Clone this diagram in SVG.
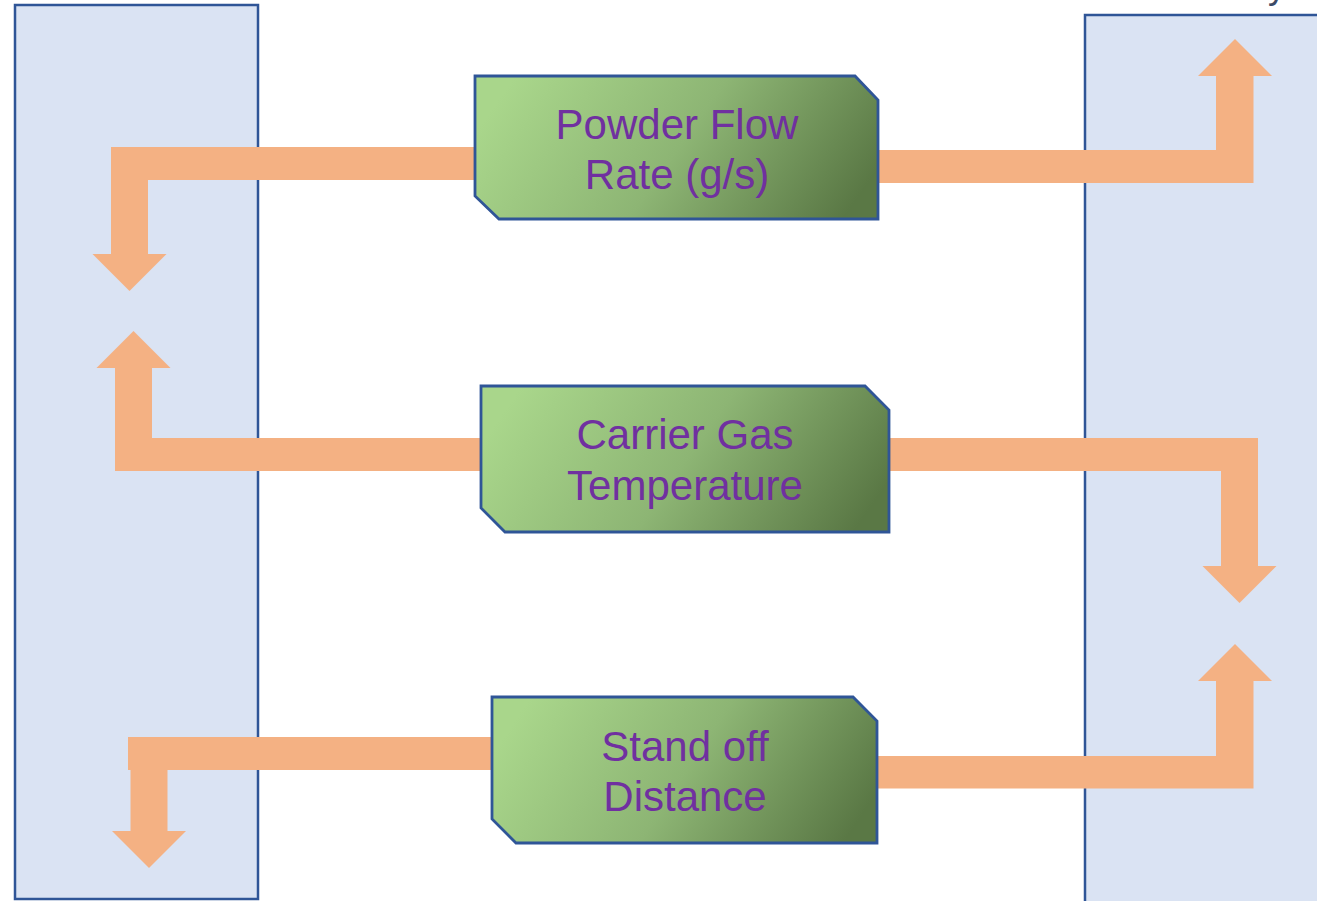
<svg xmlns="http://www.w3.org/2000/svg" width="1317" height="901" viewBox="0 0 1317 901">
<style>
.panel{fill:#dae3f3;stroke:#2f5597;stroke-width:2.5}
.box{fill:url(#g);stroke:#2f5597;stroke-width:2.8}
.arr{fill:#f4b183;stroke:none}
.lbl{font-family:"Liberation Sans",Arial,sans-serif;font-size:42px;fill:#7030a0;text-anchor:middle}
</style>
<defs>
<linearGradient id="g" x1="0" y1="0.4" x2="1" y2="0.65">
<stop offset="0" stop-color="#a9d68b"/>
<stop offset="0.5" stop-color="#8db574"/>
<stop offset="1" stop-color="#5a7845"/>
</linearGradient>
</defs>
<g id="left-panel"><rect class="panel" x="15" y="5" width="243" height="894"/></g>
<g id="right-panel"><rect class="panel" x="1085" y="15" width="260" height="900"/></g>
<text x="1268" y="-2" font-family="Liberation Sans, Arial, sans-serif" font-size="36" fill="#3b4a66">y</text>
<g id="connectors">
<polygon class="arr" points="475,147 111,147 111,254 92.5,254 129.5,291 166.5,254 148,254 148,180 475,180"/>
<polygon class="arr" points="481,438 152,438 152,368 170.5,368 133.5,331 96.5,368 115,368 115,471 481,471"/>
<polygon class="arr" points="492,737 128,737 128,770 130.5,770 130.5,831 112,831 149,868 186,831 167.5,831 167.5,770 492,770"/>
<polygon class="arr" points="878,150 1216,150 1216,76 1198,76 1235,39 1272,76 1253.5,76 1253.5,183 878,183"/>
<polygon class="arr" points="889,438 1258,438 1258,566 1276.5,566 1239.5,603 1202.5,566 1221,566 1221,471 889,471"/>
<polygon class="arr" points="877,756 1216,756 1216,681 1198,681 1235,644 1272,681 1253.5,681 1253.5,788.5 877,788.5"/>
</g>
<g id="powder-flow">
<path class="box" d="M475,76 H855 L878,100 V219 H499 L475,196 Z"/>
<text class="lbl" x="677" y="139">Powder Flow</text>
<text class="lbl" x="677" y="189">Rate (g/s)</text>
</g>
<g id="carrier-gas">
<path class="box" d="M481,386 H865 L889,410 V532 H505 L481,508 Z"/>
<text class="lbl" x="685" y="449">Carrier Gas</text>
<text class="lbl" x="685" y="500">Temperature</text>
</g>
<g id="stand-off">
<path class="box" d="M492,697 H853 L877,721 V843 H516 L492,819 Z"/>
<text class="lbl" x="685" y="761">Stand off</text>
<text class="lbl" x="685" y="811">Distance</text>
</g>
</svg>
